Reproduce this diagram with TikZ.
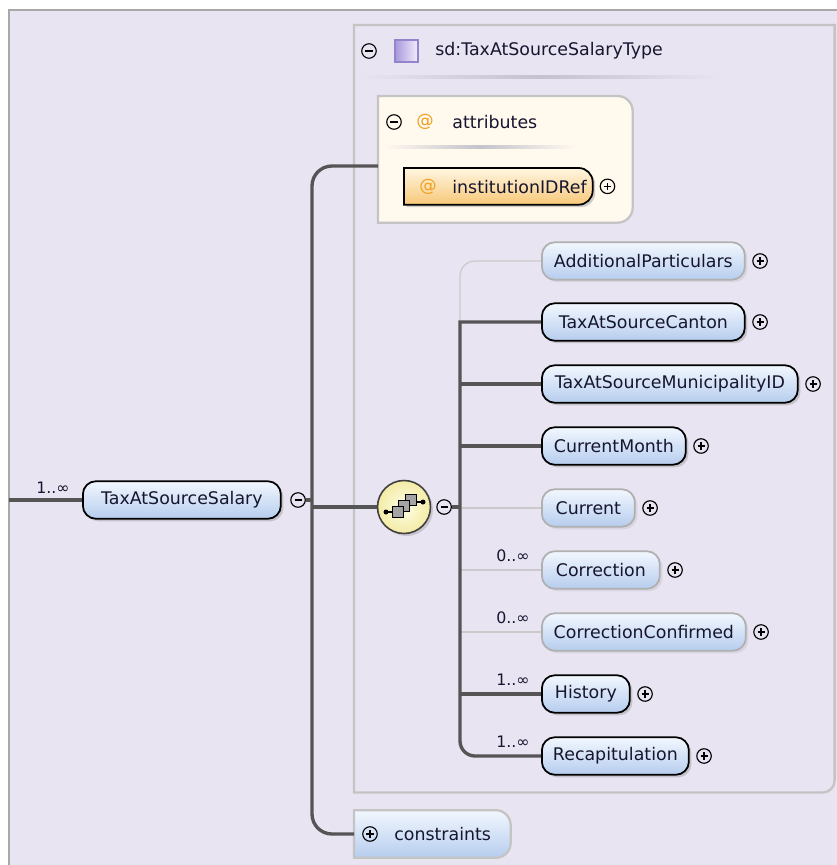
\documentclass[tikz,border=0pt]{standalone}
\usepackage{fontspec}
\setmainfont{DejaVu Sans}
\usetikzlibrary{positioning,shadows}

\definecolor{lav}{HTML}{E8E4F2}
\definecolor{outline}{HTML}{A8A8A8}
\definecolor{boxgray}{HTML}{C4C4C4}
\definecolor{sepgray}{HTML}{C4C2CC}
\definecolor{attrfill}{HTML}{FFF9EE}
\definecolor{eltop}{HTML}{F2F7FE}
\definecolor{elbot}{HTML}{B6CDEE}
\definecolor{attop}{HTML}{FFF6E2}
\definecolor{atbot}{HTML}{F8C878}
\definecolor{atsign}{HTML}{F0A020}
\definecolor{optgray}{HTML}{B0B0B0}
\definecolor{lnk}{HTML}{555555}
\definecolor{lnthin}{HTML}{CACACA}
\definecolor{txt}{HTML}{161630}
\definecolor{seqin}{HTML}{FFFFE4}
\definecolor{seqout}{HTML}{F3EBA6}
\definecolor{icongray}{HTML}{A4A4A4}
\definecolor{sqdark}{HTML}{A898DC}
\definecolor{sqlight}{HTML}{F2EEFC}
\definecolor{sqline}{HTML}{9484CC}

\tikzset{
  elfont/.style={font=\fontsize{9.9}{12}\selectfont, text=txt},
  elem/.style={elfont, rectangle, rounded corners=0.26cm, line width=1pt,
    top color=eltop, bottom color=elbot, minimum height=0.75cm, anchor=west},
  reqel/.style={elem, draw=black,
    drop shadow={shadow xshift=0.05cm, shadow yshift=-0.05cm, opacity=0.35}},
  optel/.style={elem, draw=optgray,
    drop shadow={shadow xshift=0.05cm, shadow yshift=-0.05cm, opacity=0.15}},
  eltext/.style={elfont, inner sep=0pt, anchor=west},
  atmark/.style={font=\fontsize{9.9}{12}\selectfont, text=atsign, inner sep=0pt},
  btn/.style={circle, draw=black, line width=0.65pt, minimum size=0.29cm, inner sep=0pt},
  plusbtn/.style={btn, path picture={\draw[line width=0.65pt]
      ([xshift=-2pt]path picture bounding box.center) -- ([xshift=2pt]path picture bounding box.center)
      ([yshift=-2pt]path picture bounding box.center) -- ([yshift=2pt]path picture bounding box.center);}},
  minusbtn/.style={btn, path picture={\draw[line width=0.65pt]
      ([xshift=-2pt]path picture bounding box.center) -- ([xshift=2pt]path picture bounding box.center);}},
  occ/.style={font=\fontsize{9}{10}\selectfont, text=txt, inner sep=0pt, anchor=south east},
  thickln/.style={draw=lnk, line width=1.9pt},
  thinln/.style={draw=lnthin, line width=0.7pt},
  boxln/.style={draw=boxgray, line width=1.3pt},
  sepline/.style={left color=lav, right color=lav, middle color=sepgray},
}

\begin{document}
\begin{tikzpicture}[x=0.02cm, y=-0.02cm]
\useasboundingbox (0,0) rectangle (837,865);
\fill[white] (0,0) rectangle (837,865);
\fill[lav] (9,10) rectangle (837,865);
\draw[draw=outline, line width=1pt] (9,865) -- (9,10) -- (837,10);

\node[minimum width=9.6cm, minimum height=15.34cm, inner sep=0pt, anchor=north west] (typeBox) at (354,25) {};
\draw[boxln, fill=lav] (typeBox.north west) -- (typeBox.north east) [rounded corners=0.24cm] -- (typeBox.south east) [sharp corners] -- (typeBox.south west) -- cycle;
\node[minusbtn] (typeMin) at (369,51) {};
\draw[draw=sqline, line width=0.8pt, left color=sqdark, right color=sqlight] (395,40) rectangle (418,62);
\node[eltext] (typeTxt) at (435,51) {sd:TaxAtSourceSalaryType};
\shade[sepline] (360,76) rectangle (720,79);

\node[minimum width=5.08cm, minimum height=2.52cm, inner sep=0pt, anchor=north west] (attrBox) at (378,96) {};
\draw[boxln, fill=attrfill] (attrBox.north west) [rounded corners=0.3cm] -- (attrBox.north east) -- (attrBox.south east) [sharp corners] -- (attrBox.south west) -- cycle;
\node[minusbtn] (attrMin) at (394,122) {};
\node[atmark] (attrAt) at (425,122) {@};
\node[eltext] (attrTxt) at (452,122) {attributes};
\shade[left color=attrfill, right color=attrfill, middle color=sepgray] (385,145) rectangle (575,148);

\node[minimum width=3.76cm, minimum height=0.72cm, inner sep=0pt, anchor=north west] (iidBox) at (404,168) {};
\draw[draw=black, line width=1pt, top color=attop, bottom color=atbot,
  drop shadow={shadow xshift=0.05cm, shadow yshift=-0.05cm, opacity=0.35}]
  (iidBox.north west) [rounded corners=0.28cm] -- (iidBox.north east) -- (iidBox.south east) [sharp corners] -- (iidBox.south west) -- cycle;
\node[atmark] (iidAt) at (428,187) {@};
\node[eltext] (iidTxt) at (452,187) {institutionIDRef};
\node[plusbtn, right=0.14cm of iidBox] (iidPlus) {};

\node[reqel, minimum width=3.96cm] (tss) at (82,500) {TaxAtSourceSalary};
\node[minusbtn, right=0.17cm of tss] (tssMin) {};
\node[occ] (tssOcc) at ([xshift=-0.24cm, yshift=0.12cm]tss.west) {1..∞};

\node[circle, draw=black!75, line width=0.9pt, minimum size=1.06cm, inner color=seqin, outer color=seqout,
  drop shadow={shadow xshift=0.05cm, shadow yshift=-0.05cm, opacity=0.3}] (seq) at (404,507) {};
\node[minusbtn, right=0.1cm of seq] (seqMin) {};
\draw[line width=0.7pt] ([shift={(-18,5)}]seq.center) -- ([shift={(-12,5)}]seq.center);
\draw[line width=0.7pt] ([shift={(12,-5)}]seq.center) -- ([shift={(19,-5)}]seq.center);
\fill ([shift={(-18,5)}]seq.center) circle [radius=0.05cm];
\fill ([shift={(19,-5)}]seq.center) circle [radius=0.05cm];
\draw[fill=icongray, line width=0.5pt] ([shift={(1,-13)}]seq.center) rectangle ([shift={(12,-2)}]seq.center);
\draw[fill=icongray, line width=0.5pt] ([shift={(-6,-7)}]seq.center) rectangle ([shift={(5,4)}]seq.center);
\draw[fill=icongray, line width=0.5pt] ([shift={(-12,-1)}]seq.center) rectangle ([shift={(-1,10)}]seq.center);

\node[optel, minimum width=4.06cm] (addPart) at (541,261) {AdditionalParticulars};
\node[reqel, minimum width=4.06cm] (taxCanton) at (541,322) {TaxAtSourceCanton};
\node[reqel, minimum width=5.12cm] (taxMuni) at (541,384) {TaxAtSourceMunicipalityID};
\node[reqel, minimum width=2.88cm] (curMonth) at (541,446) {CurrentMonth};
\node[optel, minimum width=1.86cm] (current) at (541,508) {Current};
\node[optel, minimum width=2.36cm] (correction) at (541,570) {Correction};
\node[optel, minimum width=4.08cm] (corrConf) at (541,632) {CorrectionConfirmed};
\node[reqel, minimum width=1.76cm] (history) at (541,694) {History};
\node[reqel, minimum width=2.94cm] (recap) at (541,756) {Recapitulation};

\node[plusbtn, right=0.13cm of addPart] (addPartPlus) {};
\node[plusbtn, right=0.13cm of taxCanton] (taxCantonPlus) {};
\node[plusbtn, right=0.13cm of taxMuni] (taxMuniPlus) {};
\node[plusbtn, right=0.13cm of curMonth] (curMonthPlus) {};
\node[plusbtn, right=0.13cm of current] (currentPlus) {};
\node[plusbtn, right=0.13cm of correction] (correctionPlus) {};
\node[plusbtn, right=0.13cm of corrConf] (corrConfPlus) {};
\node[plusbtn, right=0.13cm of history] (historyPlus) {};
\node[plusbtn, right=0.13cm of recap] (recapPlus) {};

\node[occ] (correctionOcc) at ([xshift=-0.22cm, yshift=0.16cm]correction.west) {0..∞};
\node[occ] (corrConfOcc) at ([xshift=-0.22cm, yshift=0.16cm]corrConf.west) {0..∞};
\node[occ] (historyOcc) at ([xshift=-0.22cm, yshift=0.16cm]history.west) {1..∞};
\node[occ] (recapOcc) at ([xshift=-0.22cm, yshift=0.16cm]recap.west) {1..∞};

\node[minimum width=3.12cm, minimum height=0.94cm, inner sep=0pt, anchor=west] (consBox) at (354,834) {};
\draw[boxln, top color=eltop, bottom color=elbot] (consBox.north west) [rounded corners=0.3cm] -- (consBox.north east) -- (consBox.south east) [sharp corners] -- (consBox.south west) -- cycle;
\node[plusbtn] (consPlus) at (370,834) {};
\node[eltext] (consTxt) at (394,834) {constraints};

\coordinate (inL) at (9,500);
\coordinate (attrIn) at (378,166);
\coordinate (trunkTop) at (312,166);
\coordinate (trunkBot) at (312,834);
\coordinate (subTop) at (460,261);
\coordinate (subMid) at (460,322);
\coordinate (subBot) at (460,756);

\draw[thickln] (inL) -- (tss.west);
\draw[thickln] (tssMin.east) -- (tssMin.east -| trunkTop);
\draw[thickln, rounded corners=0.4cm] (attrIn) -- (trunkTop) -- (trunkBot) -- (consBox.west);
\draw[thickln] (seq.west -| trunkTop) -- (seq.west);
\draw[thinln, rounded corners=0.3cm] (addPart.west) -- (subTop) -- (subMid);
\draw[thinln] (current.west) -- (current.west -| subMid);
\draw[thinln] (correction.west) -- (correction.west -| subMid);
\draw[thinln] (corrConf.west) -- (corrConf.west -| subMid);
\draw[thickln] (seqMin.east) -- (seqMin.east -| subMid);
\draw[thickln] (taxCanton.west) -- (subMid) [rounded corners=0.3cm] -- (subBot) -- (recap.west);
\draw[thickln] (taxMuni.west) -- (taxMuni.west -| subMid);
\draw[thickln] (curMonth.west) -- (curMonth.west -| subMid);
\draw[thickln] (history.west) -- (history.west -| subMid);
\end{tikzpicture}
\end{document}
